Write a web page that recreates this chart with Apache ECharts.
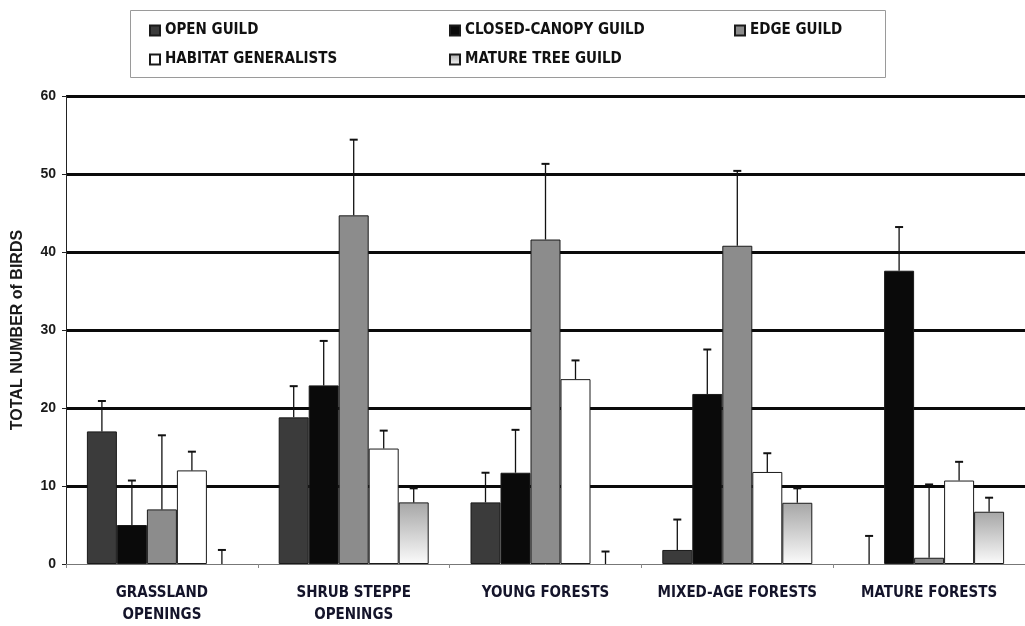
<!DOCTYPE html>
<html>
<head>
<meta charset="utf-8">
<script src="https://cdn.jsdelivr.net/npm/echarts@6/dist/echarts.min.js"></script>
<style>
  html, body { margin: 0; padding: 0; background: #fff; }
  #chart { width: 1025px; height: 626px; }
</style>
</head>
<body>
<div id="chart"></div>
<script>
// Habitat types along the x axis
const habitats = ['GRASSLAND\nOPENINGS', 'SHRUB STEPPE\nOPENINGS', 'YOUNG FORESTS', 'MIXED-AGE FORESTS', 'MATURE FORESTS'];

// Guild names
const guildNames = ['OPEN GUILD', 'CLOSED-CANOPY GUILD', 'EDGE GUILD', 'HABITAT GENERALISTS', 'MATURE TREE GUILD'];

// Mean bird counts per guild
const openGuild     = [17.0, 18.8, 7.9, 1.8, 0];
const closedCanopy  = [5.0, 22.9, 11.7, 21.8, 37.6];
const edgeGuild     = [7.0, 44.7, 41.6, 40.8, 0.8];
const generalists   = [12.0, 14.8, 23.7, 11.8, 10.7];
const matureTree    = [0, 7.9, 0, 7.85, 6.7];

// Upper error (standard error) per guild
const openErr      = [3.9, 4.0, 3.8, 3.9, 3.6];
const closedErr    = [5.7, 5.7, 5.5, 5.7, 5.6];
const edgeErr      = [9.5, 9.7, 9.7, 9.6, 9.4];
const generalErr   = [2.4, 2.3, 2.4, 2.4, 2.4];
const matureErr    = [1.8, 1.8, 1.6, 1.85, 1.8];

// Y axis ticks
const yTicks = [0, 10, 20, 30, 40, 50, 60];

const values = [openGuild, closedCanopy, edgeGuild, generalists, matureTree];
const errors = [openErr, closedErr, edgeErr, generalErr, matureErr];

const BAR_W = 30;
const labelFont = '"DejaVu Sans Condensed", "DejaVu Sans", sans-serif';

const fills = [
  '#3b3b3b',
  '#0a0a0a',
  '#8c8c8c',
  '#ffffff',
  { type: 'linear', x: 0, y: 0, x2: 0, y2: 1,
    colorStops: [{ offset: 0, color: '#a6a6a6' }, { offset: 1, color: '#fbfbfb' }] }
];

const chart = echarts.init(document.getElementById('chart'), null, { renderer: 'canvas' });

const barSeries = guildNames.map((name, i) => ({
  name: name,
  type: 'bar',
  barWidth: BAR_W,
  barGap: '0%',
  z: 2,
  itemStyle: { color: fills[i], borderColor: '#1a1a1a', borderWidth: 1 },
  // empty bars get no outline
  data: values[i].map(v => v === 0 ? { value: v, itemStyle: { borderWidth: 0 } } : v)
}));

// Error whiskers drawn above each bar
const errSeries = guildNames.map((name, i) => ({
  type: 'custom',
  z: 3,
  silent: true,
  data: values[i].map((v, k) => [k, v, v + errors[i][k]]),
  renderItem: function (params, api) {
    const base = api.coord([api.value(0), api.value(1)]);
    const top = api.coord([api.value(0), api.value(2)]);
    const x = base[0] + (i - 2) * BAR_W;
    return {
      type: 'group',
      children: [
        { type: 'line', shape: { x1: x, y1: base[1], x2: x, y2: top[1] }, style: { stroke: '#111', lineWidth: 1.3 } },
        { type: 'line', shape: { x1: x - 4, y1: top[1], x2: x + 4, y2: top[1] }, style: { stroke: '#111', lineWidth: 2 } }
      ]
    };
  }
}));

const legendText = { fontFamily: labelFont, fontWeight: 'bold', fontSize: 15, color: '#111' };
const legendBase = {
  orient: 'vertical', top: 18, itemWidth: 10, itemHeight: 10, itemGap: 14,
  icon: 'rect', textStyle: legendText, selectedMode: false
};

chart.setOption({
  animation: false,
  backgroundColor: '#ffffff',
  grid: { left: 66, right: -9, top: 96, bottom: 62 },
  graphic: [{
    type: 'rect', left: 130, top: 10, z: -1,
    shape: { width: 755, height: 67 },
    style: { fill: '#fff', stroke: '#9a9a9a', lineWidth: 1 }
  }],
  legend: [
    Object.assign({}, legendBase, { left: 144, data: [guildNames[0], guildNames[3]] }),
    Object.assign({}, legendBase, { left: 444, data: [guildNames[1], guildNames[4]] }),
    Object.assign({}, legendBase, { left: 729, data: [guildNames[2]] })
  ],
  xAxis: {
    type: 'category',
    data: habitats,
    axisLine: { lineStyle: { color: '#777', width: 1 } },
    axisTick: { show: true, length: 4, lineStyle: { color: '#888' } },
    axisLabel: {
      margin: 18, fontFamily: labelFont, fontWeight: 'bold', fontSize: 15,
      lineHeight: 22, color: '#14142a', interval: 0
    },
    splitLine: { show: false }
  },
  yAxis: {
    type: 'value',
    min: yTicks[0], max: yTicks[yTicks.length - 1], interval: 10,
    name: 'TOTAL NUMBER of BIRDS',
    nameLocation: 'middle',
    nameGap: 40,
    nameTextStyle: { fontFamily: '"Liberation Sans", Arial, sans-serif', fontWeight: 'bold', fontSize: 16, color: '#1a1a1a' },
    axisLine: { show: true, lineStyle: { color: '#222', width: 1 } },
    axisTick: { show: true, length: 4, lineStyle: { color: '#222' } },
    axisLabel: {
      margin: 10, fontFamily: '"Liberation Sans", Arial, sans-serif', fontWeight: 'bold',
      fontSize: 14, color: '#1a1a1a'
    },
    splitLine: { show: true, showMinLine: false, lineStyle: { color: '#0a0a0a', width: 3 } }
  },
  series: barSeries.concat(errSeries)
});
</script>
</body>
</html>
